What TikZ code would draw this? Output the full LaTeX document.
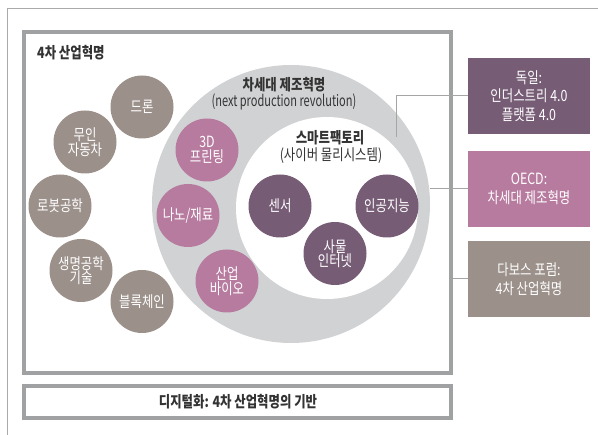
\documentclass[tikz,border=0pt]{standalone}
\usepackage{fontspec}
\setmainfont{Noto Sans CJK KR}[FakeStretch=0.8]
\newfontfamily\engnarrow{Noto Sans CJK KR}[FakeStretch=0.71]
\definecolor{cbrown}{HTML}{9B908A}
\definecolor{cpink}{HTML}{B77B9F}
\definecolor{cpurple}{HTML}{765C75}
\definecolor{ringgray}{HTML}{D1D2D4}
\definecolor{framegray}{HTML}{A0A1A3}
\definecolor{linegray}{HTML}{A5A5A5}
\definecolor{textdark}{HTML}{333333}
\newcommand{\circfont}{\fontsize{15.5}{14.5}\selectfont}
\newcommand{\boxfont}{\fontsize{15.5}{18.5}\selectfont}
\newcommand{\titlefont}{\fontsize{15.5}{16}\selectfont}
\begin{document}
\begin{tikzpicture}[x=1pt,y=-1pt,
  circ/.style={circle, minimum size=63pt, inner sep=0pt, text=white, align=center, font=\circfont},
  brownc/.style={circ, fill=cbrown},
  pinkc/.style={circ, fill=cpink},
  purplec/.style={circ, fill=cpurple},
  sidebox/.style={rectangle, minimum width=122pt, minimum height=76pt, inner sep=0pt, text=white, align=center, font=\boxfont},
  framebox/.style={rectangle, draw=framegray, line width=4pt, inner sep=0pt},
  conn/.style={draw=linegray, line width=1pt},
  label/.style={text=textdark, inner sep=0pt, font=\titlefont}
]
\useasboundingbox (0,0) rectangle (598,435);
\draw[draw=framegray!90, line width=1pt] (7,435) -- (7,9) -- (598,9);

% main frame
\node[framebox, minimum width=427pt, minimum height=340.5pt] (main) at (237.8,202.75) {};
\node[label, anchor=west, font=\titlefont\bfseries] (title) at (37,53) {4차 산업혁명};

% rings
\node[circle, fill=ringgray, minimum size=278pt, inner sep=0pt] (ring) at (291,204) {};
\node[circle, fill=white, minimum size=182pt, inner sep=0pt] (smart) at (327,208) {};

\node[label, font=\titlefont\bfseries] (ngtitle) at (284,85) {차세대 제조혁명};
\node[label, font=\titlefont\engnarrow] (ngsub) at (284,101.5) {(next production revolution)};
\node[label, font=\titlefont\bfseries] (sftitle) at (330,138) {스마트팩토리};
\node[label] (sfsub) at (331,156) {(사이버 물리시스템)};

% brown circles
\node[brownc] (drone) at (142,107) {드론};
\node[brownc] (car) at (85,142) {무인\\자동차};
\node[brownc] (robot) at (60,206) {로봇공학};
\node[brownc] (bio) at (81,270.5) {생명공학\\기술};
\node[brownc] (block) at (142,301.5) {블록체인};

% pink circles
\node[pinkc] (print) at (207,150) {3D\\프린팅};
\node[pinkc] (nano) at (188,215.5) {나노/재료};
\node[pinkc] (ibio) at (227,281) {산업\\바이오};

% purple circles
\node[purplec] (sensor) at (280,206) {센서};
\node[purplec] (ai) at (387,206) {인공지능};
\node[purplec] (iot) at (335,253.5) {사물\\인터넷};

% bottom box
\node[framebox, minimum width=427pt, minimum height=32pt] (base) at (237.8,402) {};
\node[label, font=\titlefont\bfseries] (basetext) at (238,402) {디지털화: 4차 산업혁명의 기반};

% side boxes
\node[sidebox, fill=cpurple] (germany) at (529,96) {독일:\\인더스트리 4.0\\플랫폼 4.0};
\node[sidebox, fill=cpink] (oecd) at (529,189) {OECD:\\차세대 제조혁명};
\node[sidebox, fill=cbrown] (davos) at (529,279) {다보스 포럼:\\4차 산업혁명};

% connectors
\coordinate (dk) at (396.7,137);
\draw[conn] (germany.west) -| (dk);
\draw[conn] (oecd.west) -- (oecd.west -| ring.east);
\draw[conn] (davos.west) -- (davos.west -| main.east);
\end{tikzpicture}
\end{document}
